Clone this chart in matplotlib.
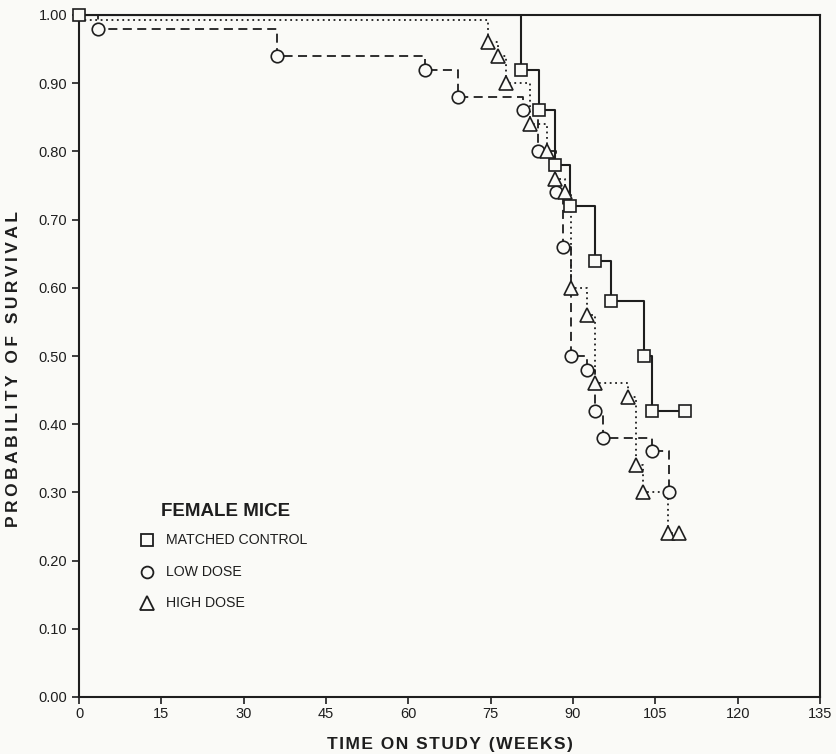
import numpy as np
import matplotlib.pyplot as plt

plt.rcParams['font.family'] = ['Liberation Sans', 'DejaVu Sans']

# ---- survival step data (weeks, probability) ----
ctrl_t = [0, 80.5, 83.8, 86.7, 89.4, 94.0, 97.0, 103.0, 104.4, 110.4]
ctrl_p = [1.00, 0.92, 0.86, 0.78, 0.72, 0.64, 0.58, 0.50, 0.42, 0.42]

low_t = [0, 3.5, 36.0, 63.0, 69.0, 80.8, 83.7, 86.9, 88.2, 89.7, 92.6, 94.0, 95.5, 104.4, 107.5]
low_p = [1.00, 0.98, 0.94, 0.92, 0.88, 0.86, 0.80, 0.74, 0.66, 0.50, 0.48, 0.42, 0.38, 0.36, 0.30]

high_t = [0, 74.5, 76.4, 77.8, 82.1, 85.2, 86.7, 88.5, 89.6, 92.6, 94.0, 100.0, 101.5, 102.8, 107.3, 109.3]
high_p = [0.993, 0.96, 0.94, 0.90, 0.84, 0.80, 0.76, 0.74, 0.60, 0.56, 0.46, 0.44, 0.34, 0.30, 0.24, 0.24]

xticks = [0, 15, 30, 45, 60, 75, 90, 105, 120, 135]
yticks = [0.0, 0.1, 0.2, 0.3, 0.4, 0.5, 0.6, 0.7, 0.8, 0.9, 1.0]

ink = "#1e1e1e"
bg = "#fafaf7"

def spaced(s, sp="\u2009"):
    # letter-spaced caps like the typeset original
    return sp.join(s)

fig = plt.figure(figsize=(8.36, 7.54), dpi=100, facecolor=bg)
ax = fig.add_axes([79/836, 1-697/754, (820-79)/836, (697-15)/754], facecolor=bg)

# (start marker index: only the control symbol shows at t=0 in the original)
series = [
    (ctrl_t, ctrl_p, "-", 1.5, "s", 8.5, "MATCHED CONTROL", 0),
    (low_t, low_p, (0, (5, 3)), 1.3, "o", 9.0, "LOW DOSE", 1),
    (high_t, high_p, (0, (1, 2)), 1.3, "^", 10.0, "HIGH DOSE", 1),
]
for i, (t, p, ls, lw, mk, ms, lab, m0) in enumerate(series):
    ax.step(t, p, where="post", color=ink, ls=ls, lw=lw, zorder=2)
    ax.plot(t, p, ls="none", marker=mk, ms=ms, mfc=bg, mec=ink, mew=1.2, zorder=3,
            clip_on=False, markevery=slice(m0, None))
    # hand-made key
    ly = 0.2302 - i * 0.0462
    ax.plot([0.0918], [ly], ls="none", marker=mk, ms=ms - 0.5, mfc=bg, mec=ink, mew=1.3,
            transform=ax.transAxes, clip_on=False)
    ax.text(0.1174, ly, lab, transform=ax.transAxes, fontsize=10.2, color=ink,
            va="center", ha="left")
ax.text(0.1103, 0.2727, "FEMALE MICE", transform=ax.transAxes, fontsize=13.5,
        fontweight="bold", color=ink, va="center", ha="left")

ax.set_xlim(0, 135)
ax.set_ylim(0, 1.0)
ax.set_xticks(xticks)
ax.set_xticklabels([str(v) for v in xticks])
ax.set_yticks(yticks)
ax.set_yticklabels([f"{v:.2f}" for v in yticks])
ax.tick_params(direction="out", length=5, width=1.2, colors=ink, labelsize=10.5)
ax.tick_params(axis="x", pad=2)
for s in ax.spines.values():
    s.set_color(ink)
    s.set_linewidth(1.5)

ax.set_xlabel(spaced("TIME ON STUDY (WEEKS)", "\u200a"), fontsize=12.5, color=ink,
              fontweight="bold")
ax.set_ylabel(spaced("PROBABILITY OF SURVIVAL"), fontsize=12.5, color=ink,
              fontweight="bold")
ax.xaxis.set_label_coords(0.5, -0.058)
ax.yaxis.set_label_coords(-0.078, 0.481)

fig.savefig("out.png", dpi=100, facecolor=bg)
